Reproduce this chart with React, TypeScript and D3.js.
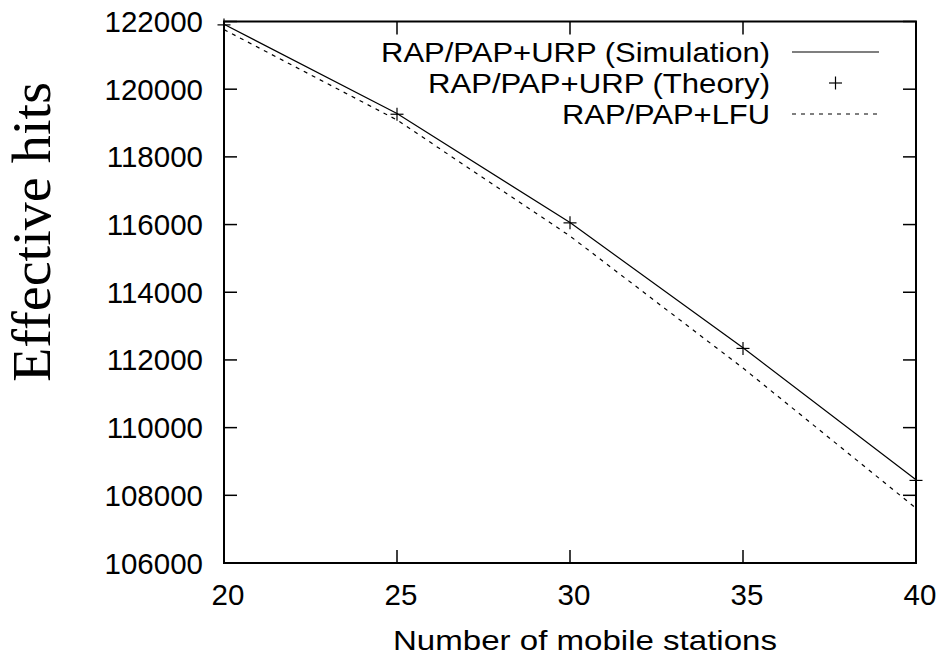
import React from "react";
import * as d3 from "d3";

const stations = [20, 25, 30, 35, 40];
const simulation = [121920, 119280, 116060, 112360, 108460];
const theory = [121900, 119260, 116050, 112340, 108440];
const lfu = [121760, 119090, 115660, 111760, 107620];
const xTicks = [20, 25, 30, 35, 40];
const yTicks = [106000, 108000, 110000, 112000, 114000, 116000, 118000, 120000, 122000];
const legendLabels = ["RAP/PAP+URP (Simulation)", "RAP/PAP+URP (Theory)", "RAP/PAP+LFU"];
const legendWidths = [389, 342, 208];

const W = 943;
const H = 660;
const L = 224;
const R = 916;
const T = 21.5;
const B = 563;

export default function App() {
  const x = d3.scaleLinear().domain([20, 40]).range([L, R]);
  const y = d3.scaleLinear().domain([106000, 122000]).range([B, T]);
  const line = d3
    .line<[number, number]>()
    .x((d) => x(d[0]))
    .y((d) => y(d[1]));
  const simPts = stations.map((s, i) => [s, simulation[i]] as [number, number]);
  const lfuPts = stations.map((s, i) => [s, lfu[i]] as [number, number]);
  const font = "'Liberation Sans', Arial, Helvetica, sans-serif";
  const tl = 13;
  const ms = 6.5;
  const plus = (cx: number, cy: number, k: string) => (
    <g key={k} stroke="#000" strokeWidth={1.2}>
      <line x1={cx - ms} x2={cx + ms} y1={cy} y2={cy} />
      <line x1={cx} x2={cx} y1={cy - ms} y2={cy + ms} />
    </g>
  );
  const legY = [52, 83, 114];
  return (
    <svg
      width={W}
      height={H}
      style={{ position: "absolute", left: 0, top: 0, background: "#fff" }}
    >
      <rect x={0} y={0} width={W} height={H} fill="#fff" />
      {/* ticks */}
      <g stroke="#000" strokeWidth={1.5}>
        {yTicks.map((t) => (
          <g key={"yt" + t}>
            <line x1={L} x2={L + tl} y1={y(t)} y2={y(t)} />
            <line x1={R} x2={R - tl} y1={y(t)} y2={y(t)} />
          </g>
        ))}
        {xTicks.map((t) => (
          <g key={"xt" + t}>
            <line x1={x(t)} x2={x(t)} y1={B} y2={B - tl} />
            <line x1={x(t)} x2={x(t)} y1={T} y2={T + tl} />
          </g>
        ))}
      </g>
      {/* tick labels */}
      <g fontFamily={font} fontSize={29.5} fill="#000">
        {yTicks.map((t) => (
          <text key={"yl" + t} x={203} y={y(t) + 10.5} textAnchor="end">
            {t}
          </text>
        ))}
        {xTicks.map((t) => (
          <text key={"xl" + t} x={x(t) + 4} y={605} textAnchor="middle">
            {t}
          </text>
        ))}
      </g>
      <text
        x={393}
        y={650}
        fontFamily={font}
        fontSize={28}
        textLength={384}
        lengthAdjust="spacingAndGlyphs"
        fill="#000"
      >
        Number of mobile stations
      </text>
      <text
        transform={`translate(50,382) rotate(-90)`}
        fontFamily="'Liberation Serif', 'DejaVu Serif', serif"
        fontSize={54}
        textLength={300}
        lengthAdjust="spacingAndGlyphs"
        fill="#000"
      >
        Effective hits
      </text>
      {/* data */}
      <path d={line(simPts) || ""} fill="none" stroke="#000" strokeWidth={1.2} />
      <path
        d={line(lfuPts) || ""}
        fill="none"
        stroke="#000"
        strokeWidth={1.2}
        strokeDasharray="4,5"
      />
      {stations.map((s, i) => plus(x(s), y(theory[i]), "p" + i))}
      {/* legend */}
      <g fontFamily={font} fontSize={28} fill="#000">
        {legendLabels.map((lab, i) => (
          <text
            key={lab}
            x={770 - legendWidths[i]}
            y={legY[i] + 10}
            textLength={legendWidths[i]}
            lengthAdjust="spacingAndGlyphs"
          >
            {lab}
          </text>
        ))}
      </g>
      <line x1={792} x2={879} y1={legY[0]} y2={legY[0]} stroke="#000" strokeWidth={1.2} />
      {plus(835.5, legY[1], "legplus")}
      <line
        x1={792}
        x2={879}
        y1={legY[2]}
        y2={legY[2]}
        stroke="#000"
        strokeWidth={1.2}
        strokeDasharray="4,5"
      />
      {/* border */}
      <rect x={L} y={T} width={R - L} height={B - T} fill="none" stroke="#000" strokeWidth={2} />
    </svg>
  );
}
